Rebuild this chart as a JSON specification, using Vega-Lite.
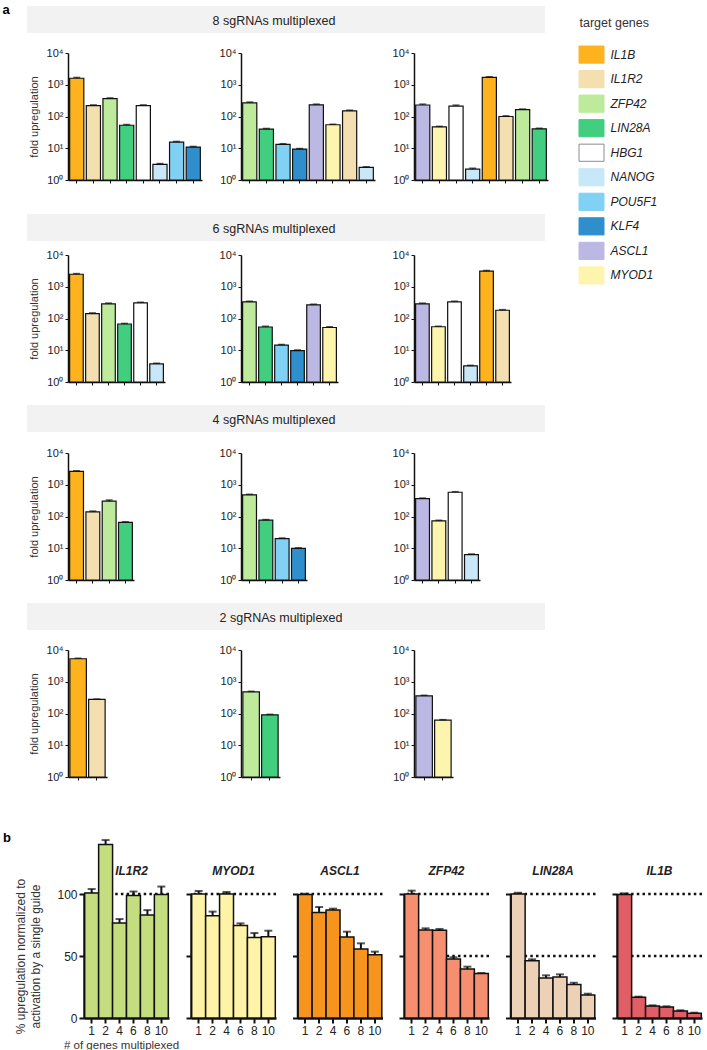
{
"$schema": "https://vega.github.io/schema/vega-lite/v6.json",
"padding": {"left": 0, "top": 4, "right": 0, "bottom": 0},
"config": {"font": "Liberation Sans", "view": {"stroke": null}, "axis": {"grid": false}},
"datasets": {
"a": [
{"r":8,"p":1,"pos":1,"gene":"IL1B","v":1600,"hi":1700},
{"r":8,"p":1,"pos":2,"gene":"IL1R2","v":221,"hi":232},
{"r":8,"p":1,"pos":3,"gene":"ZFP42","v":367,"hi":385},
{"r":8,"p":1,"pos":4,"gene":"LIN28A","v":53,"hi":56},
{"r":8,"p":1,"pos":5,"gene":"HBG1","v":221,"hi":232},
{"r":8,"p":1,"pos":6,"gene":"NANOG","v":3.1,"hi":3.3},
{"r":8,"p":1,"pos":7,"gene":"POU5F1","v":15.6,"hi":16.4},
{"r":8,"p":1,"pos":8,"gene":"KLF4","v":10.9,"hi":11.4},
{"r":8,"p":2,"pos":1,"gene":"ZFP42","v":269,"hi":285},
{"r":8,"p":2,"pos":2,"gene":"LIN28A","v":40,"hi":42},
{"r":8,"p":2,"pos":3,"gene":"POU5F1","v":13.2,"hi":13.9},
{"r":8,"p":2,"pos":4,"gene":"KLF4","v":9.4,"hi":9.8},
{"r":8,"p":2,"pos":5,"gene":"ASCL1","v":233,"hi":245},
{"r":8,"p":2,"pos":6,"gene":"MYOD1","v":55,"hi":57},
{"r":8,"p":2,"pos":7,"gene":"IL1R2","v":150,"hi":158},
{"r":8,"p":2,"pos":8,"gene":"NANOG","v":2.5,"hi":2.6},
{"r":8,"p":3,"pos":1,"gene":"ASCL1","v":230,"hi":245},
{"r":8,"p":3,"pos":2,"gene":"MYOD1","v":47,"hi":49},
{"r":8,"p":3,"pos":3,"gene":"HBG1","v":213,"hi":228},
{"r":8,"p":3,"pos":4,"gene":"NANOG","v":2.2,"hi":2.35},
{"r":8,"p":3,"pos":5,"gene":"IL1B","v":1700,"hi":1790},
{"r":8,"p":3,"pos":6,"gene":"IL1R2","v":100,"hi":105},
{"r":8,"p":3,"pos":7,"gene":"ZFP42","v":164,"hi":172},
{"r":8,"p":3,"pos":8,"gene":"LIN28A","v":41,"hi":43},
{"r":6,"p":1,"pos":1,"gene":"IL1B","v":2480,"hi":2600},
{"r":6,"p":1,"pos":2,"gene":"IL1R2","v":143,"hi":150},
{"r":6,"p":1,"pos":3,"gene":"ZFP42","v":290,"hi":305},
{"r":6,"p":1,"pos":4,"gene":"LIN28A","v":67,"hi":70},
{"r":6,"p":1,"pos":5,"gene":"HBG1","v":311,"hi":325},
{"r":6,"p":1,"pos":6,"gene":"NANOG","v":3.7,"hi":3.9},
{"r":6,"p":2,"pos":1,"gene":"ZFP42","v":335,"hi":350},
{"r":6,"p":2,"pos":2,"gene":"LIN28A","v":54,"hi":57},
{"r":6,"p":2,"pos":3,"gene":"POU5F1","v":14.4,"hi":15.2},
{"r":6,"p":2,"pos":4,"gene":"KLF4","v":9.7,"hi":10.2},
{"r":6,"p":2,"pos":5,"gene":"ASCL1","v":269,"hi":282},
{"r":6,"p":2,"pos":6,"gene":"MYOD1","v":52,"hi":55},
{"r":6,"p":3,"pos":1,"gene":"ASCL1","v":290,"hi":305},
{"r":6,"p":3,"pos":2,"gene":"MYOD1","v":55,"hi":57},
{"r":6,"p":3,"pos":3,"gene":"HBG1","v":335,"hi":350},
{"r":6,"p":3,"pos":4,"gene":"NANOG","v":3.2,"hi":3.35},
{"r":6,"p":3,"pos":5,"gene":"IL1B","v":3100,"hi":3250},
{"r":6,"p":3,"pos":6,"gene":"IL1R2","v":182,"hi":190},
{"r":4,"p":1,"pos":1,"gene":"IL1B","v":2650,"hi":2750},
{"r":4,"p":1,"pos":2,"gene":"IL1R2","v":140,"hi":148},
{"r":4,"p":1,"pos":3,"gene":"ZFP42","v":303,"hi":330},
{"r":4,"p":1,"pos":4,"gene":"LIN28A","v":65,"hi":68},
{"r":4,"p":2,"pos":1,"gene":"ZFP42","v":480,"hi":500},
{"r":4,"p":2,"pos":2,"gene":"LIN28A","v":77,"hi":80},
{"r":4,"p":2,"pos":3,"gene":"POU5F1","v":20,"hi":21},
{"r":4,"p":2,"pos":4,"gene":"KLF4","v":9.9,"hi":10.3},
{"r":4,"p":3,"pos":1,"gene":"ASCL1","v":367,"hi":380},
{"r":4,"p":3,"pos":2,"gene":"MYOD1","v":73,"hi":76},
{"r":4,"p":3,"pos":3,"gene":"HBG1","v":580,"hi":605},
{"r":4,"p":3,"pos":4,"gene":"NANOG","v":6.3,"hi":6.6},
{"r":2,"p":1,"pos":1,"gene":"IL1B","v":5300,"hi":5500},
{"r":2,"p":1,"pos":2,"gene":"IL1R2","v":277,"hi":285},
{"r":2,"p":2,"pos":1,"gene":"ZFP42","v":483,"hi":500},
{"r":2,"p":2,"pos":2,"gene":"LIN28A","v":91,"hi":94},
{"r":2,"p":3,"pos":1,"gene":"ASCL1","v":361,"hi":375},
{"r":2,"p":3,"pos":2,"gene":"MYOD1","v":62,"hi":64}
],
"b": [
{"g":"IL1R2","n":1,"v":100.8,"hi":104},
{"g":"IL1R2","n":2,"v":140,"hi":143.5},
{"g":"IL1R2","n":4,"v":76.6,"hi":79.8},
{"g":"IL1R2","n":6,"v":98.7,"hi":102},
{"g":"IL1R2","n":8,"v":83,"hi":87},
{"g":"IL1R2","n":10,"v":99.5,"hi":106},
{"g":"MYOD1","n":1,"v":100,"hi":102.4},
{"g":"MYOD1","n":2,"v":82.5,"hi":85.8},
{"g":"MYOD1","n":4,"v":100,"hi":101.6},
{"g":"MYOD1","n":6,"v":74.5,"hi":76.3},
{"g":"MYOD1","n":8,"v":65,"hi":68.5},
{"g":"MYOD1","n":10,"v":65.6,"hi":70.4},
{"g":"ASCL1","n":1,"v":99.5,"hi":100.2},
{"g":"ASCL1","n":2,"v":85,"hi":89.5},
{"g":"ASCL1","n":4,"v":87,"hi":88.2},
{"g":"ASCL1","n":6,"v":65.3,"hi":69.6},
{"g":"ASCL1","n":8,"v":55.6,"hi":60.2},
{"g":"ASCL1","n":10,"v":51,"hi":53.5},
{"g":"ZFP42","n":1,"v":100,"hi":102.7},
{"g":"ZFP42","n":2,"v":71,"hi":72.3},
{"g":"ZFP42","n":4,"v":70.7,"hi":71.8},
{"g":"ZFP42","n":6,"v":47.6,"hi":49},
{"g":"ZFP42","n":8,"v":39.5,"hi":41.4},
{"g":"ZFP42","n":10,"v":35.8,"hi":36.3},
{"g":"LIN28A","n":1,"v":100,"hi":101},
{"g":"LIN28A","n":2,"v":46.2,"hi":47.3},
{"g":"LIN28A","n":4,"v":32.3,"hi":34.4},
{"g":"LIN28A","n":6,"v":33,"hi":35.2},
{"g":"LIN28A","n":8,"v":27,"hi":28.5},
{"g":"LIN28A","n":10,"v":18.5,"hi":19.6},
{"g":"IL1B","n":1,"v":99.5,"hi":100.5},
{"g":"IL1B","n":2,"v":16.7,"hi":17.2},
{"g":"IL1B","n":4,"v":9.7,"hi":10.2},
{"g":"IL1B","n":6,"v":8.9,"hi":9.4},
{"g":"IL1B","n":8,"v":5.6,"hi":6.2},
{"g":"IL1B","n":10,"v":3.8,"hi":4.3}
],
"bref": [
{"g":"IL1R2","ref":100},{"g":"MYOD1","ref":100},{"g":"ASCL1","ref":100},
{"g":"ZFP42","ref":100},{"g":"ZFP42","ref":50},
{"g":"LIN28A","ref":100},{"g":"LIN28A","ref":50},
{"g":"IL1B","ref":100},{"g":"IL1B","ref":50}
],
"genes": [
{"gene":"IL1B"},{"gene":"IL1R2"},{"gene":"ZFP42"},{"gene":"LIN28A"},{"gene":"HBG1"},
{"gene":"NANOG"},{"gene":"POU5F1"},{"gene":"KLF4"},{"gene":"ASCL1"},{"gene":"MYOD1"}
]
},
"spacing": 49,
"vconcat": [
{"spacing": 0, "hconcat": [
 {"width": 1, "height": 1, "data": {"values": [{}]}, "mark": {"type": "rule", "opacity": 0}, "encoding": {}},
 {"title": {"text": "a", "anchor": "start", "frame": "bounds", "fontSize": 13, "fontWeight": "bold", "baseline": "alphabetic", "offset": -21, "dx": -24, "color": "#000000"},
  "spacing": 30,
  "hconcat": [
   {"spacing": 29, "vconcat": [
    {"spacing": 14, "vconcat": [
     {"width": 518, "height": 27, "view": {"fill": "#f2f2f2", "stroke": null}, "data": {"values": [{"t": "8 sgRNAs multiplexed"}]}, "mark": {"type": "text", "fontSize": 12.5, "color": "#222222", "baseline": "middle", "dx": -12, "dy": 1}, "encoding": {"text": {"field": "t", "type": "nominal"}}},
     {"spacing": 0, "hconcat": [
      {"width": 1, "height": 1, "data": {"values": [{}]}, "mark": {"type": "rule", "opacity": 0}, "encoding": {}},
      {"spacing": 17, "hconcat": [
       {"width": 134, "height": 127, "data": {"name": "a"}, "transform": [{"filter": "datum.r == 8 && datum.p == 1"}],
        "encoding": {"x": {"field": "pos", "type": "ordinal", "title": null, "scale": {"paddingInner": 0.15, "paddingOuter": 0.1}, "axis": {"labels": false, "domainColor": "#111111", "domainWidth": 1.5, "tickColor": "#111111", "tickSize": 3, "tickWidth": 1}},
         "y": {"field": "v", "type": "quantitative", "title": "fold upregulation", "scale": {"type": "log", "domain": [1, 10000], "nice": false}, "axis": {"values": [1, 10, 100, 1000, 10000], "labelExpr": "'10' + ['⁰','¹','²','³','⁴'][round(log(datum.value)/LN10)]", "labelFontSize": 11, "labelColor": "#222222", "labelPadding": 2, "labelFlush": false, "labelOverlap": false, "tickSize": 3, "tickColor": "#111111", "tickWidth": 1, "domainColor": "#111111", "domainWidth": 1.5, "titleFontSize": 11, "titleFontWeight": "normal", "titleColor": "#333333", "titlePadding": 7}}},
        "layer": [
         {"mark": {"type": "bar", "stroke": "#111111", "strokeWidth": 1.2}, "encoding": {"y2": {"datum": 1}, "fill": {"field": "gene", "type": "nominal", "scale": {"domain": ["IL1B","IL1R2","ZFP42","LIN28A","HBG1","NANOG","POU5F1","KLF4","ASCL1","MYOD1"], "range": ["#fdb21e","#f3dfb0","#bdea9b","#41cf7f","#ffffff","#c8e7f8","#80d1f3","#2f8fcd","#bbb8e3","#fdf5ad"]}, "legend": null}}},
         {"mark": {"type": "rule", "color": "#111111", "strokeWidth": 1.2}, "encoding": {"y2": {"field": "hi"}}},
         {"mark": {"type": "tick", "color": "#111111", "thickness": 1.5, "size": 7}, "encoding": {"y": {"field": "hi", "type": "quantitative", "title": "fold upregulation", "scale": {"type": "log", "domain": [1, 10000], "nice": false}}}}
        ]},
       {"width": 134, "height": 127, "data": {"name": "a"}, "transform": [{"filter": "datum.r == 8 && datum.p == 2"}],
        "encoding": {"x": {"field": "pos", "type": "ordinal", "title": null, "scale": {"paddingInner": 0.15, "paddingOuter": 0.1}, "axis": {"labels": false, "domainColor": "#111111", "domainWidth": 1.5, "tickColor": "#111111", "tickSize": 3, "tickWidth": 1}},
         "y": {"field": "v", "type": "quantitative", "title": null, "scale": {"type": "log", "domain": [1, 10000], "nice": false}, "axis": {"values": [1, 10, 100, 1000, 10000], "labelExpr": "'10' + ['⁰','¹','²','³','⁴'][round(log(datum.value)/LN10)]", "labelFontSize": 11, "labelColor": "#222222", "labelPadding": 2, "labelFlush": false, "labelOverlap": false, "tickSize": 3, "tickColor": "#111111", "tickWidth": 1, "domainColor": "#111111", "domainWidth": 1.5}}},
        "layer": [
         {"mark": {"type": "bar", "stroke": "#111111", "strokeWidth": 1.2}, "encoding": {"y2": {"datum": 1}, "fill": {"field": "gene", "type": "nominal", "scale": {"domain": ["IL1B","IL1R2","ZFP42","LIN28A","HBG1","NANOG","POU5F1","KLF4","ASCL1","MYOD1"], "range": ["#fdb21e","#f3dfb0","#bdea9b","#41cf7f","#ffffff","#c8e7f8","#80d1f3","#2f8fcd","#bbb8e3","#fdf5ad"]}, "legend": null}}},
         {"mark": {"type": "rule", "color": "#111111", "strokeWidth": 1.2}, "encoding": {"y2": {"field": "hi"}}},
         {"mark": {"type": "tick", "color": "#111111", "thickness": 1.5, "size": 7}, "encoding": {"y": {"field": "hi", "type": "quantitative", "title": null, "scale": {"type": "log", "domain": [1, 10000], "nice": false}}}}
        ]},
       {"width": 134, "height": 127, "data": {"name": "a"}, "transform": [{"filter": "datum.r == 8 && datum.p == 3"}],
        "encoding": {"x": {"field": "pos", "type": "ordinal", "title": null, "scale": {"paddingInner": 0.15, "paddingOuter": 0.1}, "axis": {"labels": false, "domainColor": "#111111", "domainWidth": 1.5, "tickColor": "#111111", "tickSize": 3, "tickWidth": 1}},
         "y": {"field": "v", "type": "quantitative", "title": null, "scale": {"type": "log", "domain": [1, 10000], "nice": false}, "axis": {"values": [1, 10, 100, 1000, 10000], "labelExpr": "'10' + ['⁰','¹','²','³','⁴'][round(log(datum.value)/LN10)]", "labelFontSize": 11, "labelColor": "#222222", "labelPadding": 2, "labelFlush": false, "labelOverlap": false, "tickSize": 3, "tickColor": "#111111", "tickWidth": 1, "domainColor": "#111111", "domainWidth": 1.5}}},
        "layer": [
         {"mark": {"type": "bar", "stroke": "#111111", "strokeWidth": 1.2}, "encoding": {"y2": {"datum": 1}, "fill": {"field": "gene", "type": "nominal", "scale": {"domain": ["IL1B","IL1R2","ZFP42","LIN28A","HBG1","NANOG","POU5F1","KLF4","ASCL1","MYOD1"], "range": ["#fdb21e","#f3dfb0","#bdea9b","#41cf7f","#ffffff","#c8e7f8","#80d1f3","#2f8fcd","#bbb8e3","#fdf5ad"]}, "legend": null}}},
         {"mark": {"type": "rule", "color": "#111111", "strokeWidth": 1.2}, "encoding": {"y2": {"field": "hi"}}},
         {"mark": {"type": "tick", "color": "#111111", "thickness": 1.5, "size": 7}, "encoding": {"y": {"field": "hi", "type": "quantitative", "title": null, "scale": {"type": "log", "domain": [1, 10000], "nice": false}}}}
        ]}
      ]}
     ]}
    ]},
    {"spacing": 18, "vconcat": [
     {"spacing": 8, "vconcat": [
      {"width": 518, "height": 27, "view": {"fill": "#f2f2f2", "stroke": null}, "data": {"values": [{"t": "6 sgRNAs multiplexed"}]}, "mark": {"type": "text", "fontSize": 12.5, "color": "#222222", "baseline": "middle", "dx": -12, "dy": 1}, "encoding": {"text": {"field": "t", "type": "nominal"}}},
      {"spacing": 0, "hconcat": [
       {"width": 1, "height": 1, "data": {"values": [{}]}, "mark": {"type": "rule", "opacity": 0}, "encoding": {}},
       {"spacing": 54, "hconcat": [
        {"width": 97, "height": 127, "data": {"name": "a"}, "transform": [{"filter": "datum.r == 6 && datum.p == 1"}],
         "encoding": {"x": {"field": "pos", "type": "ordinal", "title": null, "scale": {"paddingInner": 0.15, "paddingOuter": 0.1}, "axis": {"labels": false, "domainColor": "#111111", "domainWidth": 1.5, "tickColor": "#111111", "tickSize": 3, "tickWidth": 1}},
          "y": {"field": "v", "type": "quantitative", "title": "fold upregulation", "scale": {"type": "log", "domain": [1, 10000], "nice": false}, "axis": {"values": [1, 10, 100, 1000, 10000], "labelExpr": "'10' + ['⁰','¹','²','³','⁴'][round(log(datum.value)/LN10)]", "labelFontSize": 11, "labelColor": "#222222", "labelPadding": 2, "labelFlush": false, "labelOverlap": false, "tickSize": 3, "tickColor": "#111111", "tickWidth": 1, "domainColor": "#111111", "domainWidth": 1.5, "titleFontSize": 11, "titleFontWeight": "normal", "titleColor": "#333333", "titlePadding": 7}}},
         "layer": [
          {"mark": {"type": "bar", "stroke": "#111111", "strokeWidth": 1.2}, "encoding": {"y2": {"datum": 1}, "fill": {"field": "gene", "type": "nominal", "scale": {"domain": ["IL1B","IL1R2","ZFP42","LIN28A","HBG1","NANOG","POU5F1","KLF4","ASCL1","MYOD1"], "range": ["#fdb21e","#f3dfb0","#bdea9b","#41cf7f","#ffffff","#c8e7f8","#80d1f3","#2f8fcd","#bbb8e3","#fdf5ad"]}, "legend": null}}},
          {"mark": {"type": "rule", "color": "#111111", "strokeWidth": 1.2}, "encoding": {"y2": {"field": "hi"}}},
          {"mark": {"type": "tick", "color": "#111111", "thickness": 1.5, "size": 7}, "encoding": {"y": {"field": "hi", "type": "quantitative", "title": "fold upregulation", "scale": {"type": "log", "domain": [1, 10000], "nice": false}}}}
         ]},
        {"width": 97, "height": 127, "data": {"name": "a"}, "transform": [{"filter": "datum.r == 6 && datum.p == 2"}],
         "encoding": {"x": {"field": "pos", "type": "ordinal", "title": null, "scale": {"paddingInner": 0.15, "paddingOuter": 0.1}, "axis": {"labels": false, "domainColor": "#111111", "domainWidth": 1.5, "tickColor": "#111111", "tickSize": 3, "tickWidth": 1}},
          "y": {"field": "v", "type": "quantitative", "title": null, "scale": {"type": "log", "domain": [1, 10000], "nice": false}, "axis": {"values": [1, 10, 100, 1000, 10000], "labelExpr": "'10' + ['⁰','¹','²','³','⁴'][round(log(datum.value)/LN10)]", "labelFontSize": 11, "labelColor": "#222222", "labelPadding": 2, "labelFlush": false, "labelOverlap": false, "tickSize": 3, "tickColor": "#111111", "tickWidth": 1, "domainColor": "#111111", "domainWidth": 1.5}}},
         "layer": [
          {"mark": {"type": "bar", "stroke": "#111111", "strokeWidth": 1.2}, "encoding": {"y2": {"datum": 1}, "fill": {"field": "gene", "type": "nominal", "scale": {"domain": ["IL1B","IL1R2","ZFP42","LIN28A","HBG1","NANOG","POU5F1","KLF4","ASCL1","MYOD1"], "range": ["#fdb21e","#f3dfb0","#bdea9b","#41cf7f","#ffffff","#c8e7f8","#80d1f3","#2f8fcd","#bbb8e3","#fdf5ad"]}, "legend": null}}},
          {"mark": {"type": "rule", "color": "#111111", "strokeWidth": 1.2}, "encoding": {"y2": {"field": "hi"}}},
          {"mark": {"type": "tick", "color": "#111111", "thickness": 1.5, "size": 7}, "encoding": {"y": {"field": "hi", "type": "quantitative", "title": null, "scale": {"type": "log", "domain": [1, 10000], "nice": false}}}}
         ]},
        {"width": 97, "height": 127, "data": {"name": "a"}, "transform": [{"filter": "datum.r == 6 && datum.p == 3"}],
         "encoding": {"x": {"field": "pos", "type": "ordinal", "title": null, "scale": {"paddingInner": 0.15, "paddingOuter": 0.1}, "axis": {"labels": false, "domainColor": "#111111", "domainWidth": 1.5, "tickColor": "#111111", "tickSize": 3, "tickWidth": 1}},
          "y": {"field": "v", "type": "quantitative", "title": null, "scale": {"type": "log", "domain": [1, 10000], "nice": false}, "axis": {"values": [1, 10, 100, 1000, 10000], "labelExpr": "'10' + ['⁰','¹','²','³','⁴'][round(log(datum.value)/LN10)]", "labelFontSize": 11, "labelColor": "#222222", "labelPadding": 2, "labelFlush": false, "labelOverlap": false, "tickSize": 3, "tickColor": "#111111", "tickWidth": 1, "domainColor": "#111111", "domainWidth": 1.5}}},
         "layer": [
          {"mark": {"type": "bar", "stroke": "#111111", "strokeWidth": 1.2}, "encoding": {"y2": {"datum": 1}, "fill": {"field": "gene", "type": "nominal", "scale": {"domain": ["IL1B","IL1R2","ZFP42","LIN28A","HBG1","NANOG","POU5F1","KLF4","ASCL1","MYOD1"], "range": ["#fdb21e","#f3dfb0","#bdea9b","#41cf7f","#ffffff","#c8e7f8","#80d1f3","#2f8fcd","#bbb8e3","#fdf5ad"]}, "legend": null}}},
          {"mark": {"type": "rule", "color": "#111111", "strokeWidth": 1.2}, "encoding": {"y2": {"field": "hi"}}},
          {"mark": {"type": "tick", "color": "#111111", "thickness": 1.5, "size": 7}, "encoding": {"y": {"field": "hi", "type": "quantitative", "title": null, "scale": {"type": "log", "domain": [1, 10000], "nice": false}}}}
         ]}
       ]}
      ]}
     ]},
     {"spacing": 15, "vconcat": [
      {"width": 518, "height": 27, "view": {"fill": "#f2f2f2", "stroke": null}, "data": {"values": [{"t": "4 sgRNAs multiplexed"}]}, "mark": {"type": "text", "fontSize": 12.5, "color": "#222222", "baseline": "middle", "dx": -12, "dy": 1}, "encoding": {"text": {"field": "t", "type": "nominal"}}},
      {"spacing": 0, "hconcat": [
       {"width": 1, "height": 1, "data": {"values": [{}]}, "mark": {"type": "rule", "opacity": 0}, "encoding": {}},
       {"spacing": 85, "hconcat": [
        {"width": 66, "height": 127, "data": {"name": "a"}, "transform": [{"filter": "datum.r == 4 && datum.p == 1"}],
         "encoding": {"x": {"field": "pos", "type": "ordinal", "title": null, "scale": {"paddingInner": 0.15, "paddingOuter": 0.1}, "axis": {"labels": false, "domainColor": "#111111", "domainWidth": 1.5, "tickColor": "#111111", "tickSize": 3, "tickWidth": 1}},
          "y": {"field": "v", "type": "quantitative", "title": "fold upregulation", "scale": {"type": "log", "domain": [1, 10000], "nice": false}, "axis": {"values": [1, 10, 100, 1000, 10000], "labelExpr": "'10' + ['⁰','¹','²','³','⁴'][round(log(datum.value)/LN10)]", "labelFontSize": 11, "labelColor": "#222222", "labelPadding": 2, "labelFlush": false, "labelOverlap": false, "tickSize": 3, "tickColor": "#111111", "tickWidth": 1, "domainColor": "#111111", "domainWidth": 1.5, "titleFontSize": 11, "titleFontWeight": "normal", "titleColor": "#333333", "titlePadding": 7}}},
         "layer": [
          {"mark": {"type": "bar", "stroke": "#111111", "strokeWidth": 1.2}, "encoding": {"y2": {"datum": 1}, "fill": {"field": "gene", "type": "nominal", "scale": {"domain": ["IL1B","IL1R2","ZFP42","LIN28A","HBG1","NANOG","POU5F1","KLF4","ASCL1","MYOD1"], "range": ["#fdb21e","#f3dfb0","#bdea9b","#41cf7f","#ffffff","#c8e7f8","#80d1f3","#2f8fcd","#bbb8e3","#fdf5ad"]}, "legend": null}}},
          {"mark": {"type": "rule", "color": "#111111", "strokeWidth": 1.2}, "encoding": {"y2": {"field": "hi"}}},
          {"mark": {"type": "tick", "color": "#111111", "thickness": 1.5, "size": 7}, "encoding": {"y": {"field": "hi", "type": "quantitative", "title": "fold upregulation", "scale": {"type": "log", "domain": [1, 10000], "nice": false}}}}
         ]},
        {"width": 66, "height": 127, "data": {"name": "a"}, "transform": [{"filter": "datum.r == 4 && datum.p == 2"}],
         "encoding": {"x": {"field": "pos", "type": "ordinal", "title": null, "scale": {"paddingInner": 0.15, "paddingOuter": 0.1}, "axis": {"labels": false, "domainColor": "#111111", "domainWidth": 1.5, "tickColor": "#111111", "tickSize": 3, "tickWidth": 1}},
          "y": {"field": "v", "type": "quantitative", "title": null, "scale": {"type": "log", "domain": [1, 10000], "nice": false}, "axis": {"values": [1, 10, 100, 1000, 10000], "labelExpr": "'10' + ['⁰','¹','²','³','⁴'][round(log(datum.value)/LN10)]", "labelFontSize": 11, "labelColor": "#222222", "labelPadding": 2, "labelFlush": false, "labelOverlap": false, "tickSize": 3, "tickColor": "#111111", "tickWidth": 1, "domainColor": "#111111", "domainWidth": 1.5}}},
         "layer": [
          {"mark": {"type": "bar", "stroke": "#111111", "strokeWidth": 1.2}, "encoding": {"y2": {"datum": 1}, "fill": {"field": "gene", "type": "nominal", "scale": {"domain": ["IL1B","IL1R2","ZFP42","LIN28A","HBG1","NANOG","POU5F1","KLF4","ASCL1","MYOD1"], "range": ["#fdb21e","#f3dfb0","#bdea9b","#41cf7f","#ffffff","#c8e7f8","#80d1f3","#2f8fcd","#bbb8e3","#fdf5ad"]}, "legend": null}}},
          {"mark": {"type": "rule", "color": "#111111", "strokeWidth": 1.2}, "encoding": {"y2": {"field": "hi"}}},
          {"mark": {"type": "tick", "color": "#111111", "thickness": 1.5, "size": 7}, "encoding": {"y": {"field": "hi", "type": "quantitative", "title": null, "scale": {"type": "log", "domain": [1, 10000], "nice": false}}}}
         ]},
        {"width": 66, "height": 127, "data": {"name": "a"}, "transform": [{"filter": "datum.r == 4 && datum.p == 3"}],
         "encoding": {"x": {"field": "pos", "type": "ordinal", "title": null, "scale": {"paddingInner": 0.15, "paddingOuter": 0.1}, "axis": {"labels": false, "domainColor": "#111111", "domainWidth": 1.5, "tickColor": "#111111", "tickSize": 3, "tickWidth": 1}},
          "y": {"field": "v", "type": "quantitative", "title": null, "scale": {"type": "log", "domain": [1, 10000], "nice": false}, "axis": {"values": [1, 10, 100, 1000, 10000], "labelExpr": "'10' + ['⁰','¹','²','³','⁴'][round(log(datum.value)/LN10)]", "labelFontSize": 11, "labelColor": "#222222", "labelPadding": 2, "labelFlush": false, "labelOverlap": false, "tickSize": 3, "tickColor": "#111111", "tickWidth": 1, "domainColor": "#111111", "domainWidth": 1.5}}},
         "layer": [
          {"mark": {"type": "bar", "stroke": "#111111", "strokeWidth": 1.2}, "encoding": {"y2": {"datum": 1}, "fill": {"field": "gene", "type": "nominal", "scale": {"domain": ["IL1B","IL1R2","ZFP42","LIN28A","HBG1","NANOG","POU5F1","KLF4","ASCL1","MYOD1"], "range": ["#fdb21e","#f3dfb0","#bdea9b","#41cf7f","#ffffff","#c8e7f8","#80d1f3","#2f8fcd","#bbb8e3","#fdf5ad"]}, "legend": null}}},
          {"mark": {"type": "rule", "color": "#111111", "strokeWidth": 1.2}, "encoding": {"y2": {"field": "hi"}}},
          {"mark": {"type": "tick", "color": "#111111", "thickness": 1.5, "size": 7}, "encoding": {"y": {"field": "hi", "type": "quantitative", "title": null, "scale": {"type": "log", "domain": [1, 10000], "nice": false}}}}
         ]}
       ]}
      ]}
     ]},
     {"spacing": 14, "vconcat": [
      {"width": 518, "height": 27, "view": {"fill": "#f2f2f2", "stroke": null}, "data": {"values": [{"t": "2 sgRNAs multiplexed"}]}, "mark": {"type": "text", "fontSize": 12.5, "color": "#222222", "baseline": "middle", "dx": -5, "dy": 1}, "encoding": {"text": {"field": "t", "type": "nominal"}}},
      {"spacing": 0, "hconcat": [
       {"width": 1, "height": 1, "data": {"values": [{}]}, "mark": {"type": "rule", "opacity": 0}, "encoding": {}},
       {"spacing": 112, "hconcat": [
        {"width": 39, "height": 127, "data": {"name": "a"}, "transform": [{"filter": "datum.r == 2 && datum.p == 1"}],
         "encoding": {"x": {"field": "pos", "type": "ordinal", "title": null, "scale": {"paddingInner": 0.12, "paddingOuter": 0.1}, "axis": {"labels": false, "domainColor": "#111111", "domainWidth": 1.5, "tickColor": "#111111", "tickSize": 3, "tickWidth": 1}},
          "y": {"field": "v", "type": "quantitative", "title": "fold upregulation", "scale": {"type": "log", "domain": [1, 10000], "nice": false}, "axis": {"values": [1, 10, 100, 1000, 10000], "labelExpr": "'10' + ['⁰','¹','²','³','⁴'][round(log(datum.value)/LN10)]", "labelFontSize": 11, "labelColor": "#222222", "labelPadding": 2, "labelFlush": false, "labelOverlap": false, "tickSize": 3, "tickColor": "#111111", "tickWidth": 1, "domainColor": "#111111", "domainWidth": 1.5, "titleFontSize": 11, "titleFontWeight": "normal", "titleColor": "#333333", "titlePadding": 7}}},
         "layer": [
          {"mark": {"type": "bar", "stroke": "#111111", "strokeWidth": 1.2}, "encoding": {"y2": {"datum": 1}, "fill": {"field": "gene", "type": "nominal", "scale": {"domain": ["IL1B","IL1R2","ZFP42","LIN28A","HBG1","NANOG","POU5F1","KLF4","ASCL1","MYOD1"], "range": ["#fdb21e","#f3dfb0","#bdea9b","#41cf7f","#ffffff","#c8e7f8","#80d1f3","#2f8fcd","#bbb8e3","#fdf5ad"]}, "legend": null}}},
          {"mark": {"type": "rule", "color": "#111111", "strokeWidth": 1.2}, "encoding": {"y2": {"field": "hi"}}},
          {"mark": {"type": "tick", "color": "#111111", "thickness": 1.5, "size": 7}, "encoding": {"y": {"field": "hi", "type": "quantitative", "title": "fold upregulation", "scale": {"type": "log", "domain": [1, 10000], "nice": false}}}}
         ]},
        {"width": 39, "height": 127, "data": {"name": "a"}, "transform": [{"filter": "datum.r == 2 && datum.p == 2"}],
         "encoding": {"x": {"field": "pos", "type": "ordinal", "title": null, "scale": {"paddingInner": 0.12, "paddingOuter": 0.1}, "axis": {"labels": false, "domainColor": "#111111", "domainWidth": 1.5, "tickColor": "#111111", "tickSize": 3, "tickWidth": 1}},
          "y": {"field": "v", "type": "quantitative", "title": null, "scale": {"type": "log", "domain": [1, 10000], "nice": false}, "axis": {"values": [1, 10, 100, 1000, 10000], "labelExpr": "'10' + ['⁰','¹','²','³','⁴'][round(log(datum.value)/LN10)]", "labelFontSize": 11, "labelColor": "#222222", "labelPadding": 2, "labelFlush": false, "labelOverlap": false, "tickSize": 3, "tickColor": "#111111", "tickWidth": 1, "domainColor": "#111111", "domainWidth": 1.5}}},
         "layer": [
          {"mark": {"type": "bar", "stroke": "#111111", "strokeWidth": 1.2}, "encoding": {"y2": {"datum": 1}, "fill": {"field": "gene", "type": "nominal", "scale": {"domain": ["IL1B","IL1R2","ZFP42","LIN28A","HBG1","NANOG","POU5F1","KLF4","ASCL1","MYOD1"], "range": ["#fdb21e","#f3dfb0","#bdea9b","#41cf7f","#ffffff","#c8e7f8","#80d1f3","#2f8fcd","#bbb8e3","#fdf5ad"]}, "legend": null}}},
          {"mark": {"type": "rule", "color": "#111111", "strokeWidth": 1.2}, "encoding": {"y2": {"field": "hi"}}},
          {"mark": {"type": "tick", "color": "#111111", "thickness": 1.5, "size": 7}, "encoding": {"y": {"field": "hi", "type": "quantitative", "title": null, "scale": {"type": "log", "domain": [1, 10000], "nice": false}}}}
         ]},
        {"width": 39, "height": 127, "data": {"name": "a"}, "transform": [{"filter": "datum.r == 2 && datum.p == 3"}],
         "encoding": {"x": {"field": "pos", "type": "ordinal", "title": null, "scale": {"paddingInner": 0.12, "paddingOuter": 0.1}, "axis": {"labels": false, "domainColor": "#111111", "domainWidth": 1.5, "tickColor": "#111111", "tickSize": 3, "tickWidth": 1}},
          "y": {"field": "v", "type": "quantitative", "title": null, "scale": {"type": "log", "domain": [1, 10000], "nice": false}, "axis": {"values": [1, 10, 100, 1000, 10000], "labelExpr": "'10' + ['⁰','¹','²','³','⁴'][round(log(datum.value)/LN10)]", "labelFontSize": 11, "labelColor": "#222222", "labelPadding": 2, "labelFlush": false, "labelOverlap": false, "tickSize": 3, "tickColor": "#111111", "tickWidth": 1, "domainColor": "#111111", "domainWidth": 1.5}}},
         "layer": [
          {"mark": {"type": "bar", "stroke": "#111111", "strokeWidth": 1.2}, "encoding": {"y2": {"datum": 1}, "fill": {"field": "gene", "type": "nominal", "scale": {"domain": ["IL1B","IL1R2","ZFP42","LIN28A","HBG1","NANOG","POU5F1","KLF4","ASCL1","MYOD1"], "range": ["#fdb21e","#f3dfb0","#bdea9b","#41cf7f","#ffffff","#c8e7f8","#80d1f3","#2f8fcd","#bbb8e3","#fdf5ad"]}, "legend": null}}},
          {"mark": {"type": "rule", "color": "#111111", "strokeWidth": 1.2}, "encoding": {"y2": {"field": "hi"}}},
          {"mark": {"type": "tick", "color": "#111111", "thickness": 1.5, "size": 7}, "encoding": {"y": {"field": "hi", "type": "quantitative", "title": null, "scale": {"type": "log", "domain": [1, 10000], "nice": false}}}}
         ]}
       ]}
      ]}
     ]}
    ]}
   ]},
   {"spacing": 5, "vconcat": [
    {"width": 1, "height": 34, "data": {"values": [{"t": "target genes"}]}, "mark": {"type": "text", "align": "left", "baseline": "middle", "fontSize": 12.5, "color": "#333333"}, "encoding": {"text": {"field": "t", "type": "nominal"}}},
    {"width": 25, "height": 238, "data": {"name": "genes"},
     "encoding": {"y": {"field": "gene", "type": "nominal", "sort": null, "scale": {"paddingInner": 0.3, "paddingOuter": 0}, "axis": null}},
     "layer": [
      {"mark": {"type": "bar", "strokeWidth": 1}, "encoding": {
        "fill": {"field": "gene", "type": "nominal", "scale": {"domain": ["IL1B","IL1R2","ZFP42","LIN28A","HBG1","NANOG","POU5F1","KLF4","ASCL1","MYOD1"], "range": ["#fdb21e","#f3dfb0","#bdea9b","#41cf7f","#ffffff","#c8e7f8","#80d1f3","#2f8fcd","#bbb8e3","#fdf5ad"]}, "legend": null},
        "stroke": {"field": "gene", "type": "nominal", "scale": {"domain": ["IL1B","IL1R2","ZFP42","LIN28A","HBG1","NANOG","POU5F1","KLF4","ASCL1","MYOD1"], "range": ["#fdb21e","#f3dfb0","#bdea9b","#41cf7f","#8c8c8c","#c8e7f8","#80d1f3","#2f8fcd","#bbb8e3","#fdf5ad"]}, "legend": null}}},
      {"mark": {"type": "text", "align": "left", "dx": 19, "fontSize": 12, "fontStyle": "italic", "color": "#222222"}, "encoding": {"text": {"field": "gene", "type": "nominal"}}}
     ]}
   ]}
  ]}
]},
{"spacing": 0, "hconcat": [
 {"width": 1, "height": 1, "data": {"values": [{}]}, "mark": {"type": "rule", "opacity": 0}, "encoding": {}},
 {"title": {"text": "b", "anchor": "start", "frame": "bounds", "fontSize": 13, "fontWeight": "bold", "baseline": "alphabetic", "offset": -18, "dx": -12, "color": "#000000"},
  "spacing": 6,
  "hconcat": [
   {"width": 85, "height": 124,
    "layer": [
     {"data": {"values": [{}]}, "mark": {"type": "rule", "opacity": 0}, "encoding": {"y": {"datum": 100, "type": "quantitative", "title": ["% upregulation normalized to", "activation by a single guide"], "scale": {"domain": [0, 100], "nice": false}}, "y2": {"datum": 146}}},
     {"data": {"name": "bref"}, "transform": [{"filter": "datum.g == 'IL1R2'"}], "mark": {"type": "rule", "color": "#111111", "strokeWidth": 2.5, "strokeDash": [2.5, 3.2]}, "encoding": {"y": {"field": "ref", "type": "quantitative", "title": ["% upregulation normalized to", "activation by a single guide"], "scale": {"domain": [0, 100], "nice": false}}}},
     {"data": {"name": "b"}, "transform": [{"filter": "datum.g == 'IL1R2'"}], "mark": {"type": "bar", "fill": "#c4dd7e", "stroke": "#111111", "strokeWidth": 1.5},
      "encoding": {"x": {"field": "n", "type": "ordinal", "title": "# of genes multiplexed", "scale": {"paddingInner": 0, "paddingOuter": 0.05}, "axis": {"labelAngle": 0, "labelFontSize": 12, "labelColor": "#222222", "labelPadding": 2, "tickSize": 5, "tickColor": "#111111", "tickWidth": 2, "domainColor": "#111111", "domainWidth": 2.5, "titleFontSize": 11.5, "titleFontWeight": "normal", "titleColor": "#333333", "titlePadding": 3, "titleX": 37, "titleAlign": "center"}},
       "y": {"field": "v", "type": "quantitative", "title": ["% upregulation normalized to", "activation by a single guide"], "scale": {"domain": [0, 100], "nice": false}, "axis": {"values": [0, 50, 100], "labelFontSize": 12, "labelColor": "#222222", "labelPadding": 2, "labelFlush": false, "tickSize": 5, "tickColor": "#111111", "tickWidth": 2, "domainColor": "#111111", "domainWidth": 2.5, "titleFontSize": 12, "titleFontWeight": "normal", "titleColor": "#333333", "titlePadding": 14, "titleLineHeight": 15}}}},
     {"data": {"name": "b"}, "transform": [{"filter": "datum.g == 'IL1R2'"}], "mark": {"type": "rule", "color": "#111111", "strokeWidth": 2},
      "encoding": {"x": {"field": "n", "type": "ordinal", "title": "# of genes multiplexed"}, "y": {"field": "v", "type": "quantitative", "title": ["% upregulation normalized to", "activation by a single guide"], "scale": {"domain": [0, 100], "nice": false}}, "y2": {"field": "hi"}}},
     {"data": {"name": "b"}, "transform": [{"filter": "datum.g == 'IL1R2'"}], "mark": {"type": "tick", "color": "#111111", "thickness": 2, "size": 8},
      "encoding": {"x": {"field": "n", "type": "ordinal", "title": "# of genes multiplexed"}, "y": {"field": "hi", "type": "quantitative", "title": ["% upregulation normalized to", "activation by a single guide"], "scale": {"domain": [0, 100], "nice": false}}}},
     {"data": {"values": [{"g": "IL1R2"}]}, "mark": {"type": "text", "fontSize": 12, "fontWeight": "bold", "fontStyle": "italic", "color": "#222222", "baseline": "alphabetic", "dx": 5}, "encoding": {"text": {"field": "g", "type": "nominal"}, "y": {"datum": 115, "type": "quantitative", "title": ["% upregulation normalized to", "activation by a single guide"], "scale": {"domain": [0, 100], "nice": false}}}}
    ]},
   {"spacing": 13.5, "hconcat": [
   {"width": 85, "height": 124,
    "layer": [
     {"data": {"values": [{}]}, "mark": {"type": "rule", "opacity": 0}, "encoding": {"y": {"datum": 100, "type": "quantitative", "title": null, "scale": {"domain": [0, 100], "nice": false}}, "y2": {"datum": 146}}},
     {"data": {"name": "bref"}, "transform": [{"filter": "datum.g == 'MYOD1'"}], "mark": {"type": "rule", "color": "#111111", "strokeWidth": 2.5, "strokeDash": [2.5, 3.2]}, "encoding": {"y": {"field": "ref", "type": "quantitative", "title": null, "scale": {"domain": [0, 100], "nice": false}}}},
     {"data": {"name": "b"}, "transform": [{"filter": "datum.g == 'MYOD1'"}], "mark": {"type": "bar", "fill": "#fef3a6", "stroke": "#111111", "strokeWidth": 1.5},
      "encoding": {"x": {"field": "n", "type": "ordinal", "title": null, "scale": {"paddingInner": 0, "paddingOuter": 0.05}, "axis": {"labelAngle": 0, "labelFontSize": 12, "labelColor": "#222222", "labelPadding": 2, "tickSize": 5, "tickColor": "#111111", "tickWidth": 2, "domainColor": "#111111", "domainWidth": 2.5}},
       "y": {"field": "v", "type": "quantitative", "title": null, "scale": {"domain": [0, 100], "nice": false}, "axis": {"values": [0, 50, 100], "labels": false, "tickSize": 5, "tickColor": "#111111", "tickWidth": 2, "domainColor": "#111111", "domainWidth": 2.5}}}},
     {"data": {"name": "b"}, "transform": [{"filter": "datum.g == 'MYOD1'"}], "mark": {"type": "rule", "color": "#111111", "strokeWidth": 2},
      "encoding": {"x": {"field": "n", "type": "ordinal", "title": null}, "y": {"field": "v", "type": "quantitative", "title": null, "scale": {"domain": [0, 100], "nice": false}}, "y2": {"field": "hi"}}},
     {"data": {"name": "b"}, "transform": [{"filter": "datum.g == 'MYOD1'"}], "mark": {"type": "tick", "color": "#111111", "thickness": 2, "size": 8},
      "encoding": {"x": {"field": "n", "type": "ordinal", "title": null}, "y": {"field": "hi", "type": "quantitative", "title": null, "scale": {"domain": [0, 100], "nice": false}}}},
     {"data": {"values": [{"g": "MYOD1"}]}, "mark": {"type": "text", "fontSize": 12, "fontWeight": "bold", "fontStyle": "italic", "color": "#222222", "baseline": "alphabetic"}, "encoding": {"text": {"field": "g", "type": "nominal"}, "y": {"datum": 115, "type": "quantitative", "title": null, "scale": {"domain": [0, 100], "nice": false}}}}
    ]},
   {"width": 85, "height": 124,
    "layer": [
     {"data": {"values": [{}]}, "mark": {"type": "rule", "opacity": 0}, "encoding": {"y": {"datum": 100, "type": "quantitative", "title": null, "scale": {"domain": [0, 100], "nice": false}}, "y2": {"datum": 146}}},
     {"data": {"name": "bref"}, "transform": [{"filter": "datum.g == 'ASCL1'"}], "mark": {"type": "rule", "color": "#111111", "strokeWidth": 2.5, "strokeDash": [2.5, 3.2]}, "encoding": {"y": {"field": "ref", "type": "quantitative", "title": null, "scale": {"domain": [0, 100], "nice": false}}}},
     {"data": {"name": "b"}, "transform": [{"filter": "datum.g == 'ASCL1'"}], "mark": {"type": "bar", "fill": "#f7941d", "stroke": "#111111", "strokeWidth": 1.5},
      "encoding": {"x": {"field": "n", "type": "ordinal", "title": null, "scale": {"paddingInner": 0, "paddingOuter": 0.05}, "axis": {"labelAngle": 0, "labelFontSize": 12, "labelColor": "#222222", "labelPadding": 2, "tickSize": 5, "tickColor": "#111111", "tickWidth": 2, "domainColor": "#111111", "domainWidth": 2.5}},
       "y": {"field": "v", "type": "quantitative", "title": null, "scale": {"domain": [0, 100], "nice": false}, "axis": {"values": [0, 50, 100], "labels": false, "tickSize": 5, "tickColor": "#111111", "tickWidth": 2, "domainColor": "#111111", "domainWidth": 2.5}}}},
     {"data": {"name": "b"}, "transform": [{"filter": "datum.g == 'ASCL1'"}], "mark": {"type": "rule", "color": "#111111", "strokeWidth": 2},
      "encoding": {"x": {"field": "n", "type": "ordinal", "title": null}, "y": {"field": "v", "type": "quantitative", "title": null, "scale": {"domain": [0, 100], "nice": false}}, "y2": {"field": "hi"}}},
     {"data": {"name": "b"}, "transform": [{"filter": "datum.g == 'ASCL1'"}], "mark": {"type": "tick", "color": "#111111", "thickness": 2, "size": 8},
      "encoding": {"x": {"field": "n", "type": "ordinal", "title": null}, "y": {"field": "hi", "type": "quantitative", "title": null, "scale": {"domain": [0, 100], "nice": false}}}},
     {"data": {"values": [{"g": "ASCL1"}]}, "mark": {"type": "text", "fontSize": 12, "fontWeight": "bold", "fontStyle": "italic", "color": "#222222", "baseline": "alphabetic"}, "encoding": {"text": {"field": "g", "type": "nominal"}, "y": {"datum": 115, "type": "quantitative", "title": null, "scale": {"domain": [0, 100], "nice": false}}}}
    ]},
   {"width": 85, "height": 124,
    "layer": [
     {"data": {"values": [{}]}, "mark": {"type": "rule", "opacity": 0}, "encoding": {"y": {"datum": 100, "type": "quantitative", "title": null, "scale": {"domain": [0, 100], "nice": false}}, "y2": {"datum": 146}}},
     {"data": {"name": "bref"}, "transform": [{"filter": "datum.g == 'ZFP42'"}], "mark": {"type": "rule", "color": "#111111", "strokeWidth": 2.5, "strokeDash": [2.5, 3.2]}, "encoding": {"y": {"field": "ref", "type": "quantitative", "title": null, "scale": {"domain": [0, 100], "nice": false}}}},
     {"data": {"name": "b"}, "transform": [{"filter": "datum.g == 'ZFP42'"}], "mark": {"type": "bar", "fill": "#f58f70", "stroke": "#111111", "strokeWidth": 1.5},
      "encoding": {"x": {"field": "n", "type": "ordinal", "title": null, "scale": {"paddingInner": 0, "paddingOuter": 0.05}, "axis": {"labelAngle": 0, "labelFontSize": 12, "labelColor": "#222222", "labelPadding": 2, "tickSize": 5, "tickColor": "#111111", "tickWidth": 2, "domainColor": "#111111", "domainWidth": 2.5}},
       "y": {"field": "v", "type": "quantitative", "title": null, "scale": {"domain": [0, 100], "nice": false}, "axis": {"values": [0, 50, 100], "labels": false, "tickSize": 5, "tickColor": "#111111", "tickWidth": 2, "domainColor": "#111111", "domainWidth": 2.5}}}},
     {"data": {"name": "b"}, "transform": [{"filter": "datum.g == 'ZFP42'"}], "mark": {"type": "rule", "color": "#111111", "strokeWidth": 2},
      "encoding": {"x": {"field": "n", "type": "ordinal", "title": null}, "y": {"field": "v", "type": "quantitative", "title": null, "scale": {"domain": [0, 100], "nice": false}}, "y2": {"field": "hi"}}},
     {"data": {"name": "b"}, "transform": [{"filter": "datum.g == 'ZFP42'"}], "mark": {"type": "tick", "color": "#111111", "thickness": 2, "size": 8},
      "encoding": {"x": {"field": "n", "type": "ordinal", "title": null}, "y": {"field": "hi", "type": "quantitative", "title": null, "scale": {"domain": [0, 100], "nice": false}}}},
     {"data": {"values": [{"g": "ZFP42"}]}, "mark": {"type": "text", "fontSize": 12, "fontWeight": "bold", "fontStyle": "italic", "color": "#222222", "baseline": "alphabetic"}, "encoding": {"text": {"field": "g", "type": "nominal"}, "y": {"datum": 115, "type": "quantitative", "title": null, "scale": {"domain": [0, 100], "nice": false}}}}
    ]},
   {"width": 85, "height": 124,
    "layer": [
     {"data": {"values": [{}]}, "mark": {"type": "rule", "opacity": 0}, "encoding": {"y": {"datum": 100, "type": "quantitative", "title": null, "scale": {"domain": [0, 100], "nice": false}}, "y2": {"datum": 146}}},
     {"data": {"name": "bref"}, "transform": [{"filter": "datum.g == 'LIN28A'"}], "mark": {"type": "rule", "color": "#111111", "strokeWidth": 2.5, "strokeDash": [2.5, 3.2]}, "encoding": {"y": {"field": "ref", "type": "quantitative", "title": null, "scale": {"domain": [0, 100], "nice": false}}}},
     {"data": {"name": "b"}, "transform": [{"filter": "datum.g == 'LIN28A'"}], "mark": {"type": "bar", "fill": "#ecd1b6", "stroke": "#111111", "strokeWidth": 1.5},
      "encoding": {"x": {"field": "n", "type": "ordinal", "title": null, "scale": {"paddingInner": 0, "paddingOuter": 0.05}, "axis": {"labelAngle": 0, "labelFontSize": 12, "labelColor": "#222222", "labelPadding": 2, "tickSize": 5, "tickColor": "#111111", "tickWidth": 2, "domainColor": "#111111", "domainWidth": 2.5}},
       "y": {"field": "v", "type": "quantitative", "title": null, "scale": {"domain": [0, 100], "nice": false}, "axis": {"values": [0, 50, 100], "labels": false, "tickSize": 5, "tickColor": "#111111", "tickWidth": 2, "domainColor": "#111111", "domainWidth": 2.5}}}},
     {"data": {"name": "b"}, "transform": [{"filter": "datum.g == 'LIN28A'"}], "mark": {"type": "rule", "color": "#111111", "strokeWidth": 2},
      "encoding": {"x": {"field": "n", "type": "ordinal", "title": null}, "y": {"field": "v", "type": "quantitative", "title": null, "scale": {"domain": [0, 100], "nice": false}}, "y2": {"field": "hi"}}},
     {"data": {"name": "b"}, "transform": [{"filter": "datum.g == 'LIN28A'"}], "mark": {"type": "tick", "color": "#111111", "thickness": 2, "size": 8},
      "encoding": {"x": {"field": "n", "type": "ordinal", "title": null}, "y": {"field": "hi", "type": "quantitative", "title": null, "scale": {"domain": [0, 100], "nice": false}}}},
     {"data": {"values": [{"g": "LIN28A"}]}, "mark": {"type": "text", "fontSize": 12, "fontWeight": "bold", "fontStyle": "italic", "color": "#222222", "baseline": "alphabetic"}, "encoding": {"text": {"field": "g", "type": "nominal"}, "y": {"datum": 115, "type": "quantitative", "title": null, "scale": {"domain": [0, 100], "nice": false}}}}
    ]},
   {"width": 85, "height": 124,
    "layer": [
     {"data": {"values": [{}]}, "mark": {"type": "rule", "opacity": 0}, "encoding": {"y": {"datum": 100, "type": "quantitative", "title": null, "scale": {"domain": [0, 100], "nice": false}}, "y2": {"datum": 146}}},
     {"data": {"name": "bref"}, "transform": [{"filter": "datum.g == 'IL1B'"}], "mark": {"type": "rule", "color": "#111111", "strokeWidth": 2.5, "strokeDash": [2.5, 3.2]}, "encoding": {"y": {"field": "ref", "type": "quantitative", "title": null, "scale": {"domain": [0, 100], "nice": false}}}},
     {"data": {"name": "b"}, "transform": [{"filter": "datum.g == 'IL1B'"}], "mark": {"type": "bar", "fill": "#e25e66", "stroke": "#111111", "strokeWidth": 1.5},
      "encoding": {"x": {"field": "n", "type": "ordinal", "title": null, "scale": {"paddingInner": 0, "paddingOuter": 0.05}, "axis": {"labelAngle": 0, "labelFontSize": 12, "labelColor": "#222222", "labelPadding": 2, "tickSize": 5, "tickColor": "#111111", "tickWidth": 2, "domainColor": "#111111", "domainWidth": 2.5}},
       "y": {"field": "v", "type": "quantitative", "title": null, "scale": {"domain": [0, 100], "nice": false}, "axis": {"values": [0, 50, 100], "labels": false, "tickSize": 5, "tickColor": "#111111", "tickWidth": 2, "domainColor": "#111111", "domainWidth": 2.5}}}},
     {"data": {"name": "b"}, "transform": [{"filter": "datum.g == 'IL1B'"}], "mark": {"type": "rule", "color": "#111111", "strokeWidth": 2},
      "encoding": {"x": {"field": "n", "type": "ordinal", "title": null}, "y": {"field": "v", "type": "quantitative", "title": null, "scale": {"domain": [0, 100], "nice": false}}, "y2": {"field": "hi"}}},
     {"data": {"name": "b"}, "transform": [{"filter": "datum.g == 'IL1B'"}], "mark": {"type": "tick", "color": "#111111", "thickness": 2, "size": 8},
      "encoding": {"x": {"field": "n", "type": "ordinal", "title": null}, "y": {"field": "hi", "type": "quantitative", "title": null, "scale": {"domain": [0, 100], "nice": false}}}},
     {"data": {"values": [{"g": "IL1B"}]}, "mark": {"type": "text", "fontSize": 12, "fontWeight": "bold", "fontStyle": "italic", "color": "#222222", "baseline": "alphabetic"}, "encoding": {"text": {"field": "g", "type": "nominal"}, "y": {"datum": 115, "type": "quantitative", "title": null, "scale": {"domain": [0, 100], "nice": false}}}}
    ]}
   ]}
  ]}
]}
]
}
